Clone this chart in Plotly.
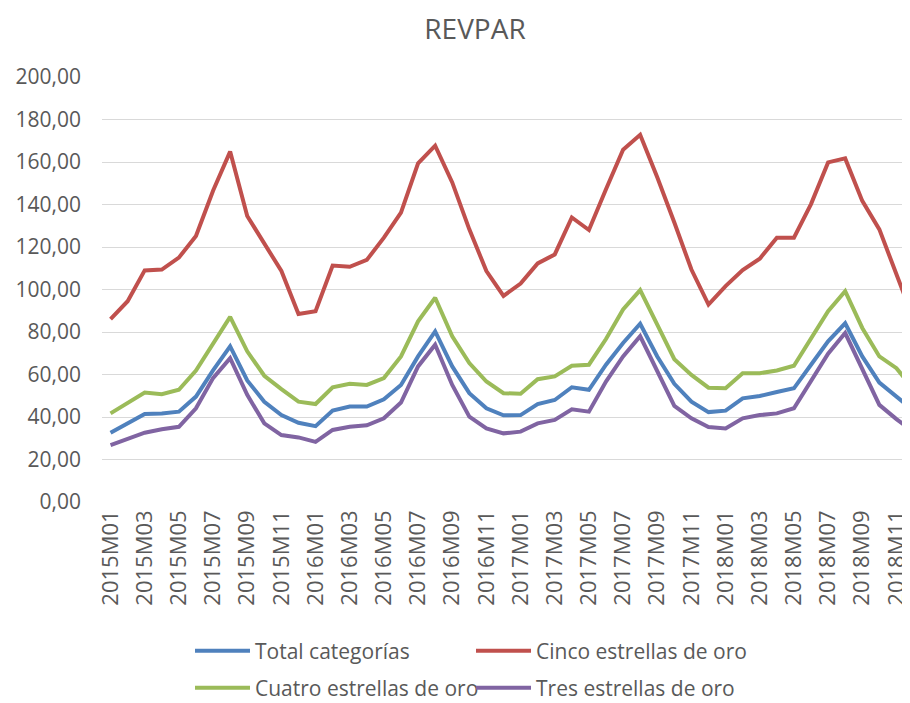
import plotly.graph_objects as go

# months 2015M01 .. 2018M12
months = [f"{y}M{m:02d}" for y in range(2015, 2019) for m in range(1, 13)]

total = [32.6, 37.0, 41.4, 41.7, 42.5, 49.6, 61.9, 73.2, 57.2, 47.2, 40.9, 37.3,
         35.7, 43.0, 44.9, 44.9, 48.3, 55.1, 68.5, 80.3, 63.8, 51.2, 44.1, 40.8,
         40.9, 46.1, 48.0, 54.0, 52.8, 64.6, 74.8, 83.9, 68.5, 55.6, 47.2, 42.3,
         43.0, 48.8, 49.9, 51.8, 53.5, 64.6, 75.6, 84.1, 68.5, 56.2, 49.6, 43.0]

cinco = [86.1, 94.5, 109.0, 109.4, 115.0, 125.2, 146.5, 164.9, 134.6, 122.0, 108.7, 88.5,
         89.8, 111.3, 110.7, 113.9, 124.4, 136.2, 159.4, 167.7, 150.4, 128.3, 108.7, 97.0,
         102.8, 112.3, 116.5, 133.9, 128.0, 147.2, 165.8, 172.8, 152.8, 131.5, 109.4, 92.9,
         101.6, 109.1, 114.5, 124.4, 124.4, 140.2, 159.8, 161.7, 141.7, 128.3, 107.1, 86.0]

cuatro = [41.7, 46.8, 51.5, 50.7, 52.8, 61.9, 74.8, 87.1, 70.9, 59.4, 53.1, 47.2,
          46.1, 54.0, 55.6, 55.1, 58.3, 68.5, 85.0, 96.1, 78.0, 65.4, 56.7, 51.2,
          50.9, 57.8, 59.1, 64.1, 64.6, 76.7, 90.6, 99.7, 83.5, 67.2, 59.8, 53.8,
          53.5, 60.6, 60.6, 61.9, 64.1, 76.7, 89.8, 99.2, 81.9, 68.5, 63.0, 53.0]

tres = [26.8, 29.9, 32.6, 34.2, 35.4, 44.1, 58.3, 67.7, 50.4, 37.0, 31.5, 30.4,
        28.3, 33.9, 35.4, 36.1, 39.4, 46.8, 63.8, 74.0, 55.1, 40.2, 34.6, 32.3,
        33.1, 37.0, 38.6, 43.6, 42.5, 56.7, 68.5, 78.0, 61.4, 45.2, 39.4, 35.3,
        34.6, 39.4, 40.9, 41.7, 44.1, 56.7, 69.8, 79.5, 62.2, 45.7, 39.0, 33.0]

series = [
    ("Total categorías", total, "#4F81BD", "legend"),
    ("Cinco estrellas de oro", cinco, "#C0504D", "legend"),
    ("Cuatro estrellas de oro", cuatro, "#9BBB59", "legend2"),
    ("Tres estrellas de oro", tres, "#8064A2", "legend2"),
]

grey = "#595959"
font = "Open Sans"

# the page body adds an 8px offset, so the figure is 8px smaller than the window
W, H = 902, 695

fig = go.Figure()
for name, vals, color, leg in series:
    fig.add_trace(go.Scatter(x=months, y=vals, mode="lines", name=name,
                             line=dict(color=color, width=4), legend=leg))

leg_style = dict(orientation="h", xref="container", yref="container",
                 x=182 / W, xanchor="left", yanchor="middle",
                 entrywidth=211, itemwidth=55,
                 font=dict(family=font, size=21, color=grey),
                 bgcolor="rgba(0,0,0,0)")

fig.update_layout(
    width=W, height=H,
    margin=dict(l=94, r=0, t=69, b=201),
    paper_bgcolor="white", plot_bgcolor="white",
    separators=",.",
    title=dict(text="REVPAR", x=467 / W, xanchor="center", y=1 - 21 / H, yanchor="middle",
               font=dict(family=font, size=28, color=grey)),
    legend=dict(y=1 - 643 / H, **leg_style),
    legend2=dict(y=1 - 680 / H, **leg_style),
    showlegend=True,
)

fig.update_xaxes(
    type="category", range=[-0.5, 46.56],
    tickmode="array", tickvals=months[::2], ticktext=months[::2],
    tickangle=-90, tickfont=dict(family=font, size=22, color=grey),
    ticklabelstandoff=3,
    showgrid=False, showline=False, zeroline=False, ticks="",
)
fig.update_yaxes(
    range=[0, 200], dtick=20, tickformat=".2f",
    gridcolor="#D9D9D9", gridwidth=1, zeroline=False, showline=False,
    tickfont=dict(family=font, size=21, color=grey), ticklabelstandoff=20,
)

fig.write_html("out.html")
